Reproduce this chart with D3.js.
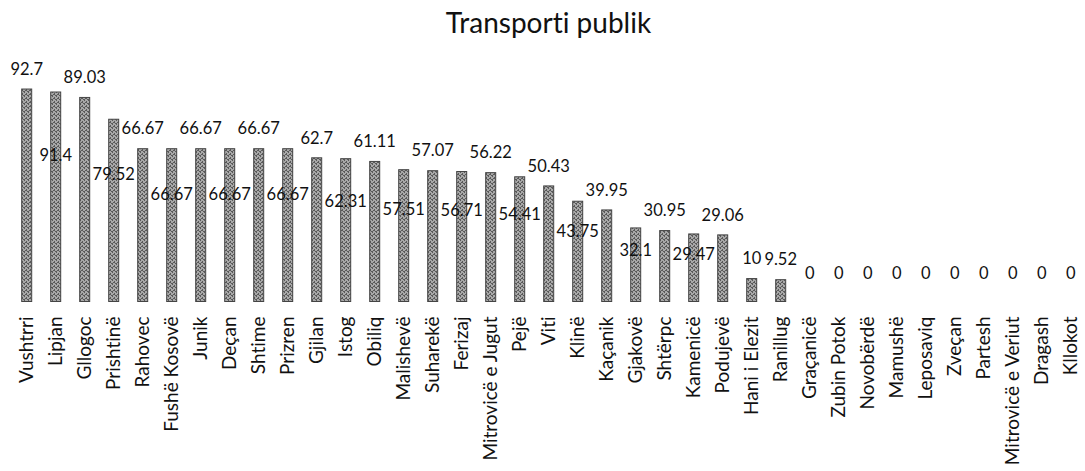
<!DOCTYPE html>
<html>
<head>
<meta charset="utf-8">
<script src="https://cdn.jsdelivr.net/npm/d3@7/dist/d3.min.js"></script>
<style>
  html, body { margin: 0; padding: 0; background: #fff; }
  svg { display: block; }
  text { font-family: Lato, "Open Sans", sans-serif; fill: #111; font-variant-ligatures: none; font-feature-settings: "liga" 0, "clig" 0; }
</style>
</head>
<body>
<svg id="chart" width="1085" height="471"></svg>
<script>
const title = "Transporti publik";
const categories = ["Vushtrri","Lipjan","Gllogoc","Prishtinë","Rahovec","Fushë Kosovë","Junik","Deçan","Shtime","Prizren","Gjilan","Istog","Obiliq","Malishevë","Suharekë","Ferizaj","Mitrovicë e Jugut","Pejë","Viti","Klinë","Kaçanik","Gjakovë","Shtërpc","Kamenicë","Podujevë","Hani i Elezit","Ranillug","Graçanicë","Zubin Potok","Novobërdë","Mamushë","Leposaviq","Zveçan","Partesh","Mitrovicë e Veriut","Dragash","Kllokot"];
const values = [92.7,91.4,89.03,79.52,66.67,66.67,66.67,66.67,66.67,66.67,62.7,62.31,61.11,57.51,57.07,56.71,56.22,54.41,50.43,43.75,39.95,32.1,30.95,29.47,29.06,10,9.52,0,0,0,0,0,0,0,0,0,0];
const valueLabels = ["92.7","91.4","89.03","79.52","66.67","66.67","66.67","66.67","66.67","66.67","62.7","62.31","61.11","57.51","57.07","56.71","56.22","54.41","50.43","43.75","39.95","32.1","30.95","29.47","29.06","10","9.52","0","0","0","0","0","0","0","0","0","0"];

const data = categories.map((c, i) => ({ cat: c, v: values[i], label: valueLabels[i], i }));

const svg = d3.select("#chart");

// hatched bar texture
const defs = svg.append("defs");
const pat = defs.append("pattern")
  .attr("id", "tex").attr("patternUnits", "userSpaceOnUse")
  .attr("width", 4).attr("height", 4);
pat.append("rect").attr("width", 4).attr("height", 4).attr("fill", "#a8a8a8");
[[0,0],[2,1],[1,2],[3,3],[0,3],[2,2]].forEach(([px,py]) => {
  pat.append("rect").attr("x", px).attr("y", py).attr("width", 1).attr("height", 1).attr("fill", "#5a5a5a");
});

const x = d3.scaleBand()
  .domain(categories)
  .range([12.2, 1085.2])
  .paddingInner(0.655)
  .paddingOuter(0.3275);

const y = d3.scaleLinear().domain([0, 100]).range([301.5, 72.3]);

// title
svg.append("text")
  .attr("x", 548.5).attr("y", 33)
  .attr("text-anchor", "middle")
  .style("font-size", "28px")
  .text(title);

// bars
svg.append("g").selectAll("rect")
  .data(data.filter(d => d.v > 0))
  .join("rect")
  .attr("x", d => x(d.cat))
  .attr("width", x.bandwidth())
  .attr("y", d => y(d.v))
  .attr("height", d => y(0) - y(d.v))
  .attr("fill", "url(#tex)")
  .attr("stroke", "#444")
  .attr("stroke-width", 1);

// data labels: alternate above the bar and lower on the bar
const low = d => d.i % 2 === 1 && d.v >= 20;
svg.append("g").selectAll("text")
  .data(data)
  .join("text")
  .attr("x", d => x(d.cat) + x.bandwidth() / 2)
  .attr("y", d => low(d) ? y(0.7 * d.v) : Math.min(y(d.v) - 20, y(0) - 28.5))
  .attr("dy", "0.35em")
  .attr("text-anchor", "middle")
  .style("font-size", "16.5px")
  .text(d => d.label);

// x axis labels (rotated)
const xAxis = d3.axisBottom(x).tickSize(0).tickPadding(0);
const gx = svg.append("g")
  .attr("transform", `translate(0, ${y(0)})`)
  .call(xAxis);
gx.select(".domain").remove();
gx.selectAll(".tick text")
  .attr("transform", "translate(0,15) rotate(-90)")
  .attr("x", 0).attr("y", 0)
  .attr("dy", "0.35em")
  .attr("text-anchor", "end")
  .style("font-family", "Lato, sans-serif")
  .style("font-size", "19px")
  .style("font-variant-ligatures", "none")
  .style("fill", "#111");
</script>
</body>
</html>
